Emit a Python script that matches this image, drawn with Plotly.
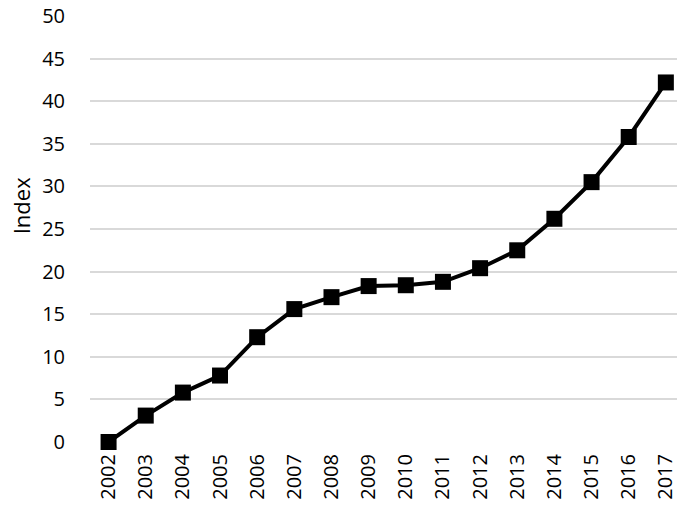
import plotly.graph_objects as go

# données
years = [str(y) for y in range(2002, 2018)]
index_values = [0.0, 3.1, 5.8, 7.8, 12.3, 15.6, 17.0, 18.3, 18.4, 18.8,
                20.4, 22.5, 26.2, 30.5, 35.8, 42.2]
y_ticks = list(range(0, 55, 5))

fig = go.Figure(go.Scatter(
    x=years,
    y=index_values,
    mode='lines+markers',
    line=dict(color='black', width=4),
    marker=dict(symbol='square', size=16, color='black'),
    cliponaxis=False,
    hoverinfo='x+y'
))

# titre de l'axe Y en annotation (un peu au-dessus du centre, comme l'original)
fig.add_annotation(
    text='Index',
    xref='paper', yref='paper',
    x=-0.117, y=0.554,
    xanchor='center', yanchor='middle',
    textangle=-90,
    showarrow=False,
    font=dict(size=22, color='black'),
)

fig.update_layout(
    width=669,
    height=494,
    margin=dict(l=82, r=0, t=8, b=60, autoexpand=False),
    plot_bgcolor='white',
    paper_bgcolor='white',
    font=dict(family='Open Sans, Liberation Sans, sans-serif', size=20, color='black'),
    showlegend=False,
    xaxis=dict(
        type='category',
        range=[-0.5, 15.3],
        tickangle=-90,
        tickfont=dict(size=20),
        showgrid=False,
        showline=False,
        zeroline=False,
        ticks='',
        ticklabelstandoff=7,
        automargin=False,
    ),
    yaxis=dict(
        range=[0, 50],
        tickvals=y_ticks,
        tickfont=dict(size=20),
        showgrid=True,
        gridcolor='#d9d9d9',
        gridwidth=1.5,
        zeroline=False,
        showline=False,
        ticks='',
        ticklabelstandoff=24,
        ticklabeloverflow='allow',
        automargin=False,
    ),
)

fig.write_html("out.html")
